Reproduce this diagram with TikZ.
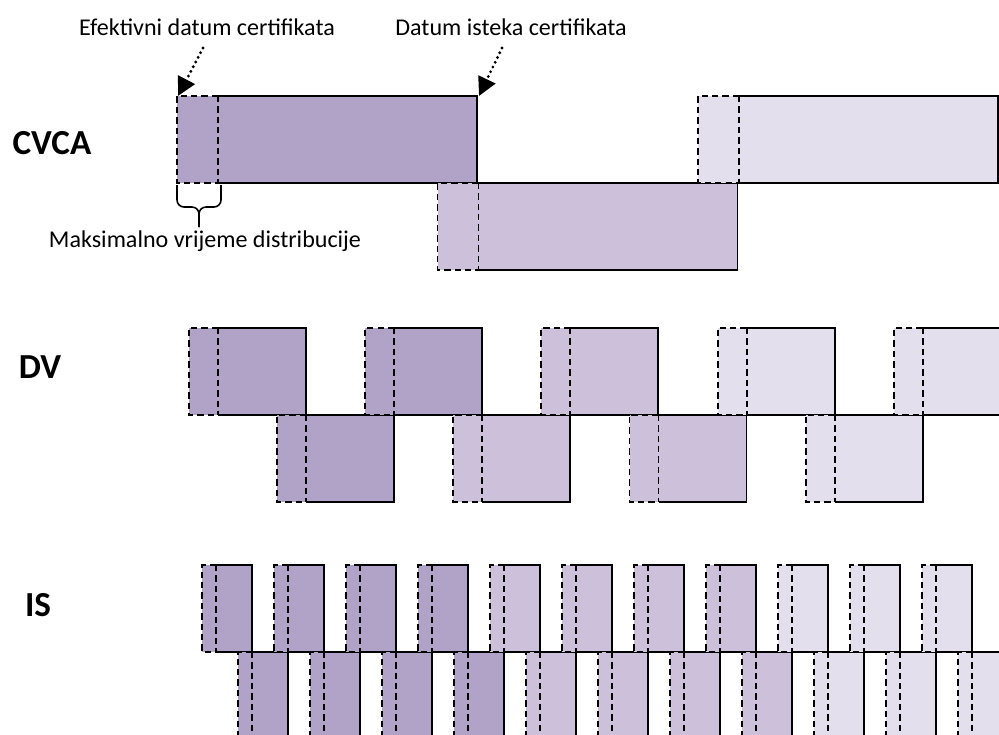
\documentclass[tikz,border=0pt]{standalone}
\usepackage{fontspec}
\setmainfont{Carlito}
\usepackage{xcolor}
\definecolor{certdark}{HTML}{B1A2C7}
\definecolor{certmid}{HTML}{CCC0DA}
\definecolor{certlight}{HTML}{E4DFEC}
\usepackage{tikz}
\usetikzlibrary{arrows.meta}

\tikzset{
  solidedge/.style={line width=1.1pt},
  distedge/.style={line width=1.1pt, dash pattern=on 3.6pt off 2.3pt},
  dotarrow/.style={line width=1.8pt, line cap=round, dash pattern=on 0pt off 3pt,
    -{Triangle[length=10.5pt,width=10.5pt]}},
  rowlabel/.style={font=\fontsize{20}{24}\selectfont\bfseries},
}
% x, y, width, height, distribution, colour
\newcommand{\certbox}[6]{%
  \fill[#6] (#1,#2) rectangle ++(#3,#4);
  \draw[distedge] (#1+#5,#2) -- (#1,#2) -- (#1,#2+#4) -- (#1+#5,#2+#4);
  \draw[distedge] (#1+#5,#2) -- (#1+#5,#2+#4);
  \draw[solidedge] (#1+#5,#2) -- (#1+#3,#2) -- (#1+#3,#2+#4) -- (#1+#5,#2+#4);
}

\begin{document}
\begin{tikzpicture}[x=0.02cm, y=-0.02cm, font=\fontsize{13.7}{16}\selectfont]
  \useasboundingbox (0,0) rectangle (999,734);
  \clip (0,0) rectangle (999,734);
  % CVCA
  \foreach \i in {0,1,2}{
    \pgfmathsetmacro{\bx}{177+260.5*\i}
    \pgfmathsetmacro{\by}{ifthenelse(mod(\i,2)==1,183,96)}
    \ifcase\i \def\bc{certdark}\or \def\bc{certmid}\else \def\bc{certlight}\fi
    \certbox{\bx}{\by}{300}{87}{41}{\bc}
  }
  % DV
  \foreach \i in {0,...,8}{
    \pgfmathsetmacro{\bx}{189+88.1*\i}
    \pgfmathsetmacro{\by}{ifthenelse(mod(\i,2)==1,415,328)}
    \ifnum\i<3 \def\bc{certdark}\else\ifnum\i<6 \def\bc{certmid}\else\def\bc{certlight}\fi\fi
    \certbox{\bx}{\by}{117}{87}{29}{\bc}
  }
  % IS
  \foreach \i in {0,...,21}{
    \pgfmathsetmacro{\bx}{202+36*\i}
    \pgfmathsetmacro{\by}{ifthenelse(mod(\i,2)==1,652,565)}
    \ifnum\i<8 \def\bc{certdark}\else\ifnum\i<16 \def\bc{certmid}\else\def\bc{certlight}\fi\fi
    \certbox{\bx}{\by}{50}{87}{14}{\bc}
  }
  % row labels
  \node[rowlabel] (cvca) at (52,143) {CVCA};
  \node[rowlabel] (dv) at (40,367) {DV};
  \node[rowlabel] (is) at (38,605) {IS};
  % annotations
  \node (effDate) at (207,27) {Efektivni datum certifikata};
  \node (expDate) at (511,27) {Datum isteka certifikata};
  \coordinate (effTail) at (203,48);
  \coordinate (effTip) at (178,96);
  \coordinate (expTail) at (502,48);
  \coordinate (expTip) at (479,96);
  \draw[dotarrow] (effTail) -- (effTip);
  \draw[dotarrow] (expTail) -- (expTip);
  \coordinate (distL) at (177,185);
  \coordinate (distR) at (221,185);
  \coordinate (distTip) at (199,227);
  \draw[line width=0.9pt, rounded corners=4pt] (distL) |- (distTip |- 0,207) -- (distTip);
  \draw[line width=0.9pt, rounded corners=4pt] (distR) |- (distTip |- 0,207) -- (distTip);
  \node (distLabel) at (205,241) {Maksimalno vrijeme distribucije};
\end{tikzpicture}
\end{document}
